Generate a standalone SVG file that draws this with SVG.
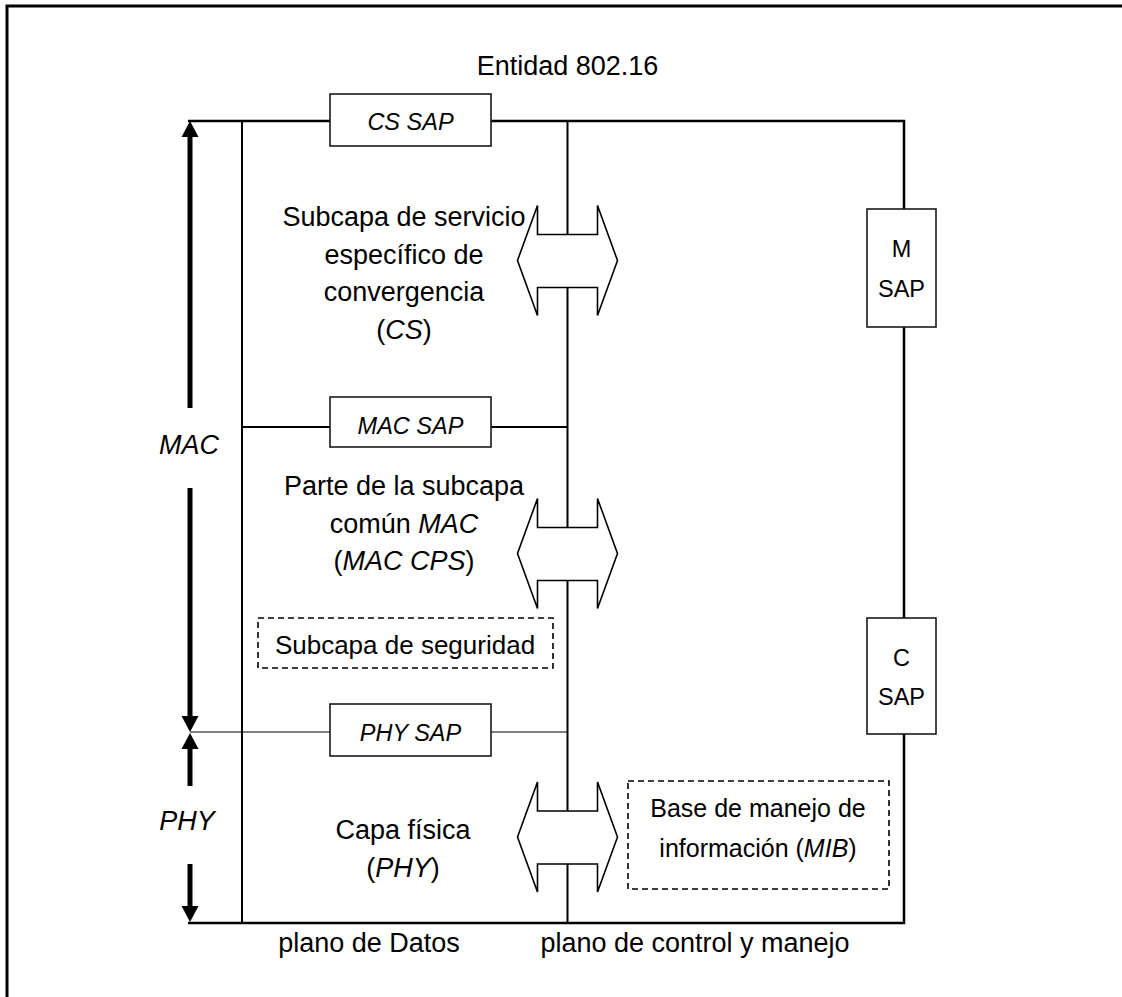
<svg xmlns="http://www.w3.org/2000/svg" width="1122" height="997" viewBox="0 0 1122 997">
<style>
.t{font-family:"Liberation Sans",Arial,sans-serif;font-size:27px;fill:#000;text-anchor:middle}
.s{font-family:"Liberation Sans",Arial,sans-serif;font-size:23.5px;fill:#000;text-anchor:middle}
.it{font-style:italic}
.ln{stroke:#000;fill:none}
.box{fill:#fff;stroke:#1a1a1a;stroke-width:1.6}
.dash{fill:none;stroke:#000;stroke-width:1.6;stroke-dasharray:6 4}
.blk{fill:#fff;stroke:#000;stroke-width:1.6;stroke-linejoin:miter}
.thick{stroke:#000;stroke-width:5;fill:none}
</style>
<defs>
<path id="dblarrow" d="M-50,0 L-30,-55 L-30,-26 L30,-26 L30,-55 L50,0 L30,55 L30,27 L-30,27 L-30,55 Z"/>
<polygon id="headUp" points="0,0 -8.5,16 8.5,16"/>
<polygon id="headDown" points="0,0 -8.5,-16 8.5,-16"/>
</defs>

<!-- frame -->
<path class="ln" stroke-width="3" d="M7,997 L7,6 L1122,6"/>

<g id="connectors">
  <path class="ln" stroke-width="2.5" d="M188,121 L330,121 M491,121 L904,121 L904,209 M904,327 L904,618 M904,734 L904,923 L188,923"/>
  <line class="ln" stroke-width="2" x1="242" y1="121" x2="242" y2="923"/>
  <line class="ln" stroke-width="2" x1="567.5" y1="121" x2="567.5" y2="923"/>
  <path class="ln" stroke-width="2" d="M242,427 L330,427 M491,427 L567.5,427"/>
  <path class="ln" stroke-width="1" d="M190,732 L330,732 M491,732 L567.5,732"/>
  <line class="thick" x1="190" y1="134" x2="190" y2="408"/>
  <use href="#headUp" x="190" y="121"/>
  <line class="thick" x1="190" y1="488" x2="190" y2="719"/>
  <use href="#headDown" x="190" y="732"/>
  <line class="thick" x1="190" y1="746" x2="190" y2="786"/>
  <use href="#headUp" x="190" y="733"/>
  <line class="thick" x1="190" y1="864" x2="190" y2="908"/>
  <use href="#headDown" x="190" y="922"/>
  <use href="#dblarrow" class="blk" x="567.5" y="260.5"/>
  <use href="#dblarrow" class="blk" x="567.5" y="553.5"/>
  <use href="#dblarrow" class="blk" x="567.5" y="837"/>
</g>

<text id="title" class="t" x="567.5" y="75">Entidad 802.16</text>

<g id="cs-sap">
  <rect class="box" x="330" y="94" width="161" height="52"/>
  <text class="s it" x="410.5" y="130">CS SAP</text>
</g>
<g id="mac-sap">
  <rect class="box" x="330" y="397" width="161" height="50"/>
  <text class="s it" x="410.5" y="434">MAC SAP</text>
</g>
<g id="phy-sap">
  <rect class="box" x="330" y="704" width="161" height="52"/>
  <text class="s it" x="410.5" y="741">PHY SAP</text>
</g>
<g id="m-sap">
  <rect class="box" x="867" y="209" width="69" height="118"/>
  <text class="s" x="901.5" y="257">M</text>
  <text class="s" x="901.5" y="297">SAP</text>
</g>
<g id="c-sap">
  <rect class="box" x="867" y="618" width="69" height="116"/>
  <text class="s" x="901.5" y="666">C</text>
  <text class="s" x="901.5" y="705">SAP</text>
</g>

<g id="cs">
  <text class="t" x="404" y="226">Subcapa de servicio</text>
  <text class="t" x="404" y="263.5">específico de</text>
  <text class="t" x="404" y="301">convergencia</text>
  <text class="t" x="404" y="339">(<tspan class="it">CS</tspan>)</text>
</g>
<g id="mac-cps">
  <text class="t" x="404" y="495">Parte de la subcapa</text>
  <text class="t" x="404" y="533">común <tspan class="it">MAC</tspan></text>
  <text class="t" x="404" y="570">(<tspan class="it">MAC CPS</tspan>)</text>
</g>
<g id="security">
  <rect class="dash" x="258" y="618" width="295" height="50"/>
  <text class="t" x="405" y="654" style="font-size:26px">Subcapa de seguridad</text>
</g>
<g id="phy">
  <text class="t" x="403" y="839">Capa física</text>
  <text class="t" x="403" y="877">(<tspan class="it">PHY</tspan>)</text>
</g>
<g id="mib">
  <rect class="dash" x="628" y="781" width="261" height="108"/>
  <text class="t" x="758" y="817" style="font-size:25px">Base de manejo de</text>
  <text class="t" x="758" y="857" style="font-size:25px">información (<tspan class="it">MIB</tspan>)</text>
</g>

<text id="mac-label" class="t it" x="189" y="454">MAC</text>
<text id="phy-label" class="t it" x="187" y="830">PHY</text>
<text id="data-plane" class="t" x="369" y="952">plano de Datos</text>
<text id="control-plane" class="t" x="695" y="952">plano de control y manejo</text>
</svg>
